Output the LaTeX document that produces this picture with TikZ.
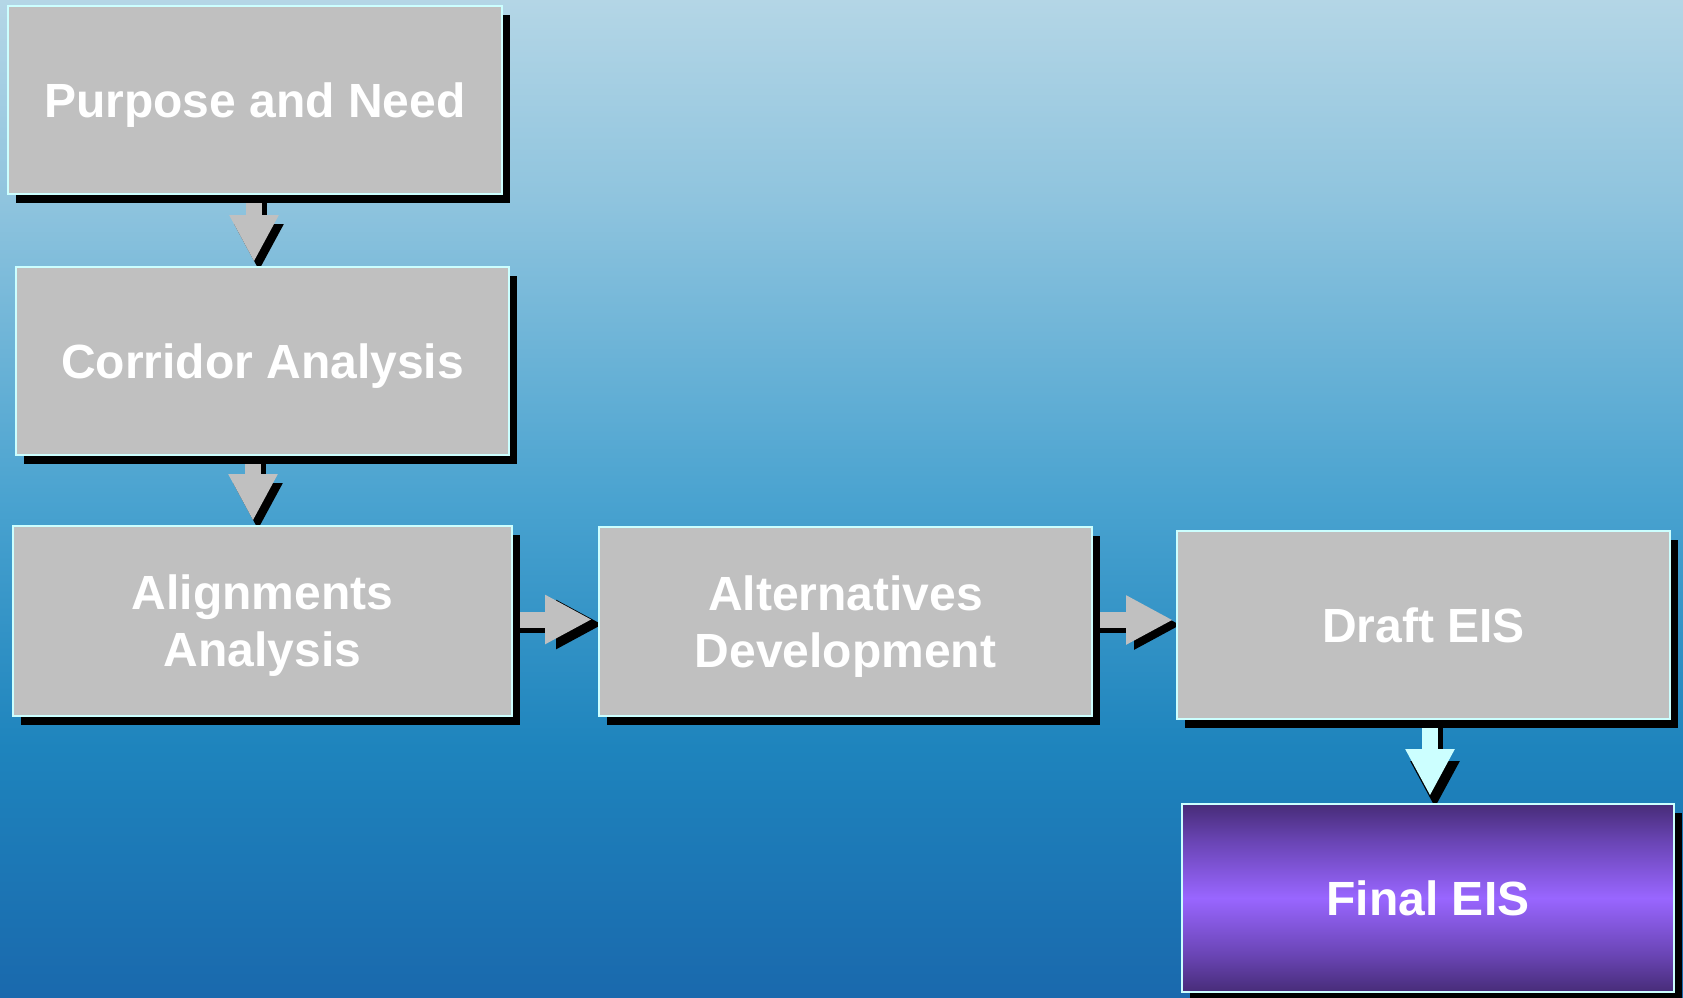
\documentclass[tikz,border=0pt]{standalone}
\usepackage{fontspec}
\setmainfont{Liberation Sans}
\usetikzlibrary{arrows.meta,shadows,calc}
\definecolor{bgA}{HTML}{1A69AD}
\definecolor{bgB}{HTML}{1E84BD}
\definecolor{bgC}{HTML}{4AA3D0}
\definecolor{bgD}{HTML}{8FC4DE}
\definecolor{bgE}{HTML}{B4D6E6}
\definecolor{boxgray}{HTML}{C0C0C0}
\definecolor{edgecyan}{HTML}{CCFFFF}
\definecolor{puA}{HTML}{472C78}
\definecolor{puB}{HTML}{6A45B5}
\definecolor{puC}{HTML}{9966FF}
\pgfdeclareverticalshading{bgsh}{100bp}{color(0bp)=(bgA); color(25bp)=(bgA); color(37.5bp)=(bgB); color(50bp)=(bgC); color(65bp)=(bgD); color(75bp)=(bgE); color(100bp)=(bgE)}
\pgfdeclareverticalshading{purpsh}{100bp}{color(0bp)=(puA); color(25bp)=(puA); color(35bp)=(puB); color(50bp)=(puC); color(65bp)=(puB); color(75bp)=(puA); color(100bp)=(puA)}
\pgfdeclarelayer{back}
\pgfdeclarelayer{arrowlayer}
\pgfsetlayers{back,arrowlayer,main}
\newcommand\flowarrow[3]{%
  \draw[conn, black, transform canvas={xshift=5pt,yshift=-5pt}] #2 -- #3;
  \draw[conn, #1] #2 -- #3;}
\begin{document}
\begin{tikzpicture}[x=1pt,y=-1pt,
  box/.style={draw=edgecyan, line width=2pt, fill=boxgray, text=white,
    font=\bfseries\fontsize{48}{57}\selectfont, align=center, inner sep=0pt, text depth=0pt,
    drop shadow={shadow xshift=8pt, shadow yshift=-9pt, fill=black, opacity=1}},
  conn/.style={line width=16pt, -{Triangle[width=46pt,length=47pt]}}]
\useasboundingbox (0,0) rectangle (1683,997);
\begin{pgfonlayer}{back}
\shade[shading=bgsh] (0,0) rectangle (1683,997);
\end{pgfonlayer}

\node[box, minimum width=494pt, minimum height=188pt] (p) at (255,100) {Purpose and Need};
\node[box, minimum width=493pt, minimum height=188pt] (c) at (262.5,361) {Corridor Analysis};
\node[box, minimum width=499pt, minimum height=190pt] (al) at (262.5,621) {Alignments\\Analysis};
\node[box, minimum width=493pt, minimum height=189pt] (alt) at (845.5,621.5) {Alternatives\\Development};
\node[box, minimum width=493pt, minimum height=188pt] (d) at (1423.5,625) {Draft EIS};
\node[box, shading=purpsh, minimum width=492pt, minimum height=188pt] (f) at (1428,898) {Final EIS};

\begin{pgfonlayer}{arrowlayer}
\flowarrow{boxgray, shorten >=4pt}{([xshift=-1pt]p.south)}{([xshift=-1pt]p.south |- c.north)}
\flowarrow{boxgray, shorten >=4pt}{([xshift=-9.5pt]c.south)}{([xshift=-9.5pt]c.south |- al.north)}
\flowarrow{boxgray, shorten >=6pt}{([yshift=1.5pt]al.east)}{([yshift=1.5pt]al.east -| alt.west)}
\flowarrow{boxgray, shorten >=3pt}{([yshift=1.5pt]alt.east)}{([yshift=1.5pt]alt.east -| d.west)}
\flowarrow{edgecyan, shorten >=7pt}{([xshift=6.5pt]d.south)}{([xshift=6.5pt]d.south |- f.north)}
\end{pgfonlayer}
\end{tikzpicture}
\end{document}
